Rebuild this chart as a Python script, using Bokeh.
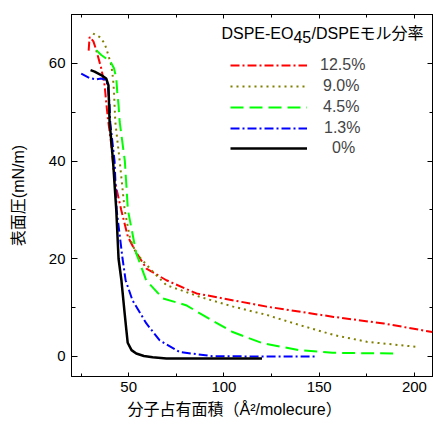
from bokeh.plotting import figure
from bokeh.models import LinearAxis, SingleIntervalTicker, Legend, LegendItem, Label, Title
from bokeh.embed import file_html
from bokeh.resources import INLINE

FONT = "'Liberation Sans', 'Noto Sans CJK JP'"

# ---- data (molecular area in A^2/molecule, surface pressure in mN/m) ----
labels = ["12.5%", "9.0%", "4.5%", "1.3%", "0%"]

x_125 = [29.0, 29.5, 31.5, 33.0, 35.6, 37.4, 38.2, 39.1, 40.9, 42.6, 46.1, 49.6,
         53.2, 59.3, 69.8, 85.6, 122.5, 157.6, 184.0, 209.3]
y_125 = [62.6, 65.4, 64.5, 62.7, 59.0, 55.5, 52.1, 48.7, 43.3, 36.1, 30.0, 24.5,
         21.8, 18.0, 15.6, 12.9, 10.2, 8.1, 6.75, 5.0]

x_90 = [31.3, 34.7, 37.4, 39.1, 40.9, 41.8, 42.3, 42.6, 43.0, 45.3, 47.9, 50.8,
        54.0, 62.8, 69.8, 87.4, 104.9, 122.5, 140.0, 157.6, 175.0, 200.5]
y_90 = [66.1, 65.4, 64.1, 62.0, 59.6, 56.9, 54.2, 51.4, 48.0, 40.0, 30.0, 24.0,
        21.1, 17.3, 14.6, 12.2, 10.2, 8.5, 6.4, 4.4, 3.0, 2.0]

x_45 = [33.0, 35.6, 38.2, 40.5, 42.3, 43.5, 44.0, 44.7, 45.3, 48.0, 49.6, 54.0,
        59.2, 67.9, 80.1, 90.6, 104.6, 120.4, 139.6, 157.0, 190.5]
y_45 = [62.7, 61.7, 61.0, 60.3, 59.0, 56.9, 54.2, 51.4, 48.0, 40.0, 30.0, 21.1,
        15.6, 11.9, 10.5, 8.1, 5.0, 2.7, 1.3, 0.75, 0.6]

x_13 = [25.1, 29.5, 33.0, 35.6, 38.2, 39.1, 40.0, 40.3, 42.6, 43.7, 46.8, 48.4,
        52.0, 59.3, 66.3, 76.8, 94.0, 120.0, 148.0]
y_13 = [57.9, 57.0, 56.7, 56.9, 56.6, 55.2, 51.4, 48.0, 40.0, 30.0, 20.0, 15.6,
        11.5, 6.75, 3.3, 0.9, 0.05, 0.0, 0.0]

x_0 = [30.0, 32.1, 35.6, 38.2, 39.4, 39.6, 40.0, 41.8, 43.5, 44.7, 46.2, 47.9,
       48.8, 49.5, 51.5, 54.0, 58.0, 62.6, 69.8, 90.0, 120.0]
y_0 = [58.6, 58.3, 57.6, 56.9, 55.5, 52.8, 48.0, 40.0, 30.0, 20.0, 15.6, 8.8,
       5.4, 2.8, 1.3, 0.6, 0.1, -0.15, -0.4, -0.4, -0.4]

series = [
    (x_125, y_125, "#ff0000", "9 3 2 3", 2),
    (x_90, y_90, "#808000", "2 4", 2),
    (x_45, y_45, "#00ff00", "13 6", 2),
    (x_13, y_13, "#0000ff", "9 3 2 3", 2),
    (x_0, y_0, "#000000", "solid", 2.5),
]

p = figure(width=433, height=426, x_range=(20, 210), y_range=(-4.1, 70),
           output_backend="svg", toolbar_location=None,
           min_border_left=71, min_border_right=0, min_border_top=14,
           min_border_bottom=50)
p.xgrid.visible = False
p.ygrid.visible = False
p.outline_line_color = "black"
p.outline_line_alpha = 1.0
p.background_fill_color = "white"
p.border_fill_color = "white"

xt = SingleIntervalTicker(interval=50, num_minor_ticks=2)
yt = SingleIntervalTicker(interval=20, num_minor_ticks=2)

bx = p.below[0]
bx.ticker = xt
ly = p.left[0]
ly.ticker = yt
for ax, (mi, mn) in ((bx, (4, 3)), (ly, (6, 4))):
    ax.major_tick_in = mi
    ax.major_tick_out = 0
    ax.minor_tick_in = mn
    ax.minor_tick_out = 0
    ax.axis_line_color = "black"
    ax.major_tick_line_color = "black"
    ax.minor_tick_line_color = "black"
    ax.major_label_text_font = FONT
    ax.major_label_text_font_size = "15px"
    ax.major_label_text_color = "black"
bx.major_label_standoff = 5
ly.major_label_standoff = 6
ly.axis_label = "表面圧(mN/m)"
ly.axis_label_text_font = FONT
ly.axis_label_text_font_size = "16px"
ly.axis_label_text_font_style = "normal"
ly.axis_label_text_color = "black"
ly.axis_label_standoff = 19

top = LinearAxis(ticker=SingleIntervalTicker(interval=50, num_minor_ticks=2),
                 major_label_text_font_size="0px", major_label_text_color=None,
                 major_label_standoff=0,
                 major_tick_in=4, major_tick_out=0, minor_tick_in=3, minor_tick_out=0,
                 axis_line_color="black")
right = LinearAxis(ticker=SingleIntervalTicker(interval=20, num_minor_ticks=2),
                   major_label_text_font_size="0px", major_label_text_color=None,
                   major_label_standoff=0,
                   major_tick_in=6, major_tick_out=0, minor_tick_in=4, minor_tick_out=0,
                   axis_line_color="black")
p.add_layout(top, "above")
p.add_layout(right, "right")

renderers = []
for xs, ys, color, dash, lw in series:
    r = p.line(xs, ys, line_color=color, line_width=lw, line_dash=dash)
    renderers.append(r)

# one legend per entry so that every label can be centred like the reference
legend_bottoms = [301, 280, 259, 238, 218]
label_standoffs = [13, 16, 16, 17, 25]
for lab, r, vy, so in zip(labels, renderers, legend_bottoms, label_standoffs):
    lg = Legend(items=[LegendItem(label=lab, renderers=[r])], location=(159, vy),
                glyph_width=77, glyph_height=20, label_height=20, spacing=0,
                padding=0, margin=0, border_line_color=None, background_fill_alpha=0,
                label_text_font=FONT, label_text_font_size="16px",
                label_standoff=so)
    p.add_layout(lg)

# legend title with subscript
title_parts = [("DSPE-EO", 98.7, 66.1), ("45", 136.5, 65.4), ("/DSPEモル分率", 146.0, 66.1)]
for txt, tx, ty in title_parts:
    p.add_layout(Label(x=tx, y=ty, text=txt, text_font=FONT, text_font_size="16px",
                       text_align="left", text_baseline="middle", text_color="black"))

# x axis title
xtitle = Title(text="分子占有面積（Å²/molecure）", align="left", offset=56,
               text_font=FONT, text_font_size="16px", text_font_style="normal",
               text_color="black", standoff=8)
p.add_layout(xtitle, "below")

open("out.html", "w").write(file_html(p, INLINE))
